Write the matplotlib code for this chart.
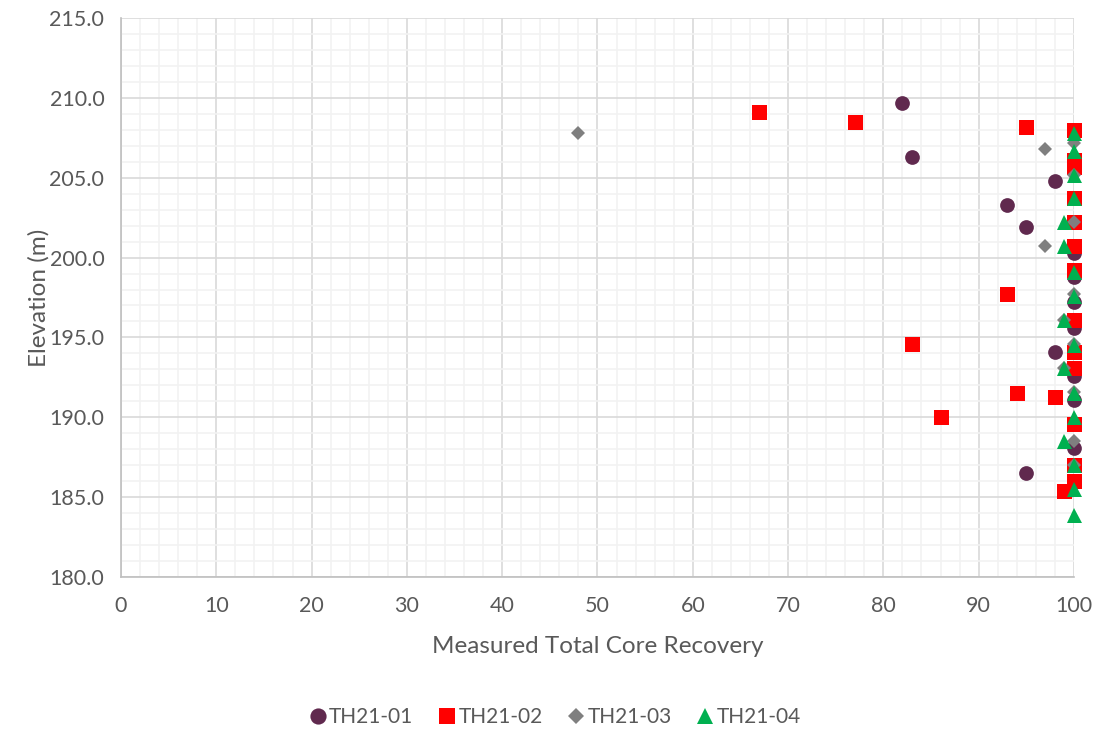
import numpy as np
import matplotlib.pyplot as plt
from matplotlib.ticker import MultipleLocator

# core recovery (%) vs elevation (m) per borehole
th01_rec = [82, 83, 98, 93, 95, 100, 100, 100, 100, 98, 100, 100, 100, 100, 95]
th01_elev = [209.7, 206.3, 204.8, 203.3, 201.9, 200.3, 198.8, 197.2, 195.6, 194.1,
             192.6, 191.1, 189.6, 188.1, 186.5]

th02_rec = [67, 77, 95, 100, 100, 100, 100, 100, 100, 100, 93, 100, 83, 100, 100,
            94, 98, 86, 100, 100, 100, 99]
th02_elev = [209.1, 208.5, 208.2, 208.0, 206.1, 205.7, 203.7, 202.2, 200.7, 199.2,
             197.7, 196.1, 194.6, 194.1, 193.1, 191.5, 191.3, 190.0, 189.6, 187.0,
             186.0, 185.4]

th03_rec = [48, 97, 100, 100, 100, 97, 100, 99, 100, 99, 100, 100, 100]
th03_elev = [207.8, 206.8, 207.2, 205.2, 202.2, 200.7, 197.7, 196.1, 194.6, 193.1,
             191.6, 188.5, 187.0]

th04_rec = [100, 100, 100, 100, 99, 99, 100, 100, 99, 100, 99, 100, 100, 99, 100,
            100, 100]
th04_elev = [207.8, 206.7, 205.2, 203.7, 202.2, 200.7, 199.1, 197.6, 196.1, 194.5,
             193.1, 191.5, 190.0, 188.5, 187.0, 185.5, 183.9]

plt.rcParams['font.family'] = ['Lato', 'DejaVu Sans']
txt = '#595959'

fig = plt.figure(figsize=(10.97, 7.30), dpi=100)
ax = fig.add_axes([0.1103, 0.2096, 0.8687, 0.7657])

ax.plot(th01_rec, th01_elev, 'o', color='#60294E', ms=10.6, mew=0, label='TH21-01',
        zorder=3, clip_on=False)
ax.plot(th02_rec, th02_elev, 's', color='#FF0000', ms=10.8, mew=0, label='TH21-02',
        zorder=4, clip_on=False)
ax.plot(th03_rec, th03_elev, 'D', color='#7F7F7F', ms=7.2, mew=0, label='TH21-03',
        zorder=5, clip_on=False)
ax.plot(th04_rec, th04_elev, '^', color='#00B050', ms=10.8, mew=0, label='TH21-04',
        zorder=6, clip_on=False)

ax.set_xlim(0, 100)
ax.set_ylim(180, 215)
ax.xaxis.set_major_locator(MultipleLocator(10))
ax.xaxis.set_minor_locator(MultipleLocator(2))
ax.yaxis.set_major_locator(MultipleLocator(5))
ax.yaxis.set_minor_locator(MultipleLocator(1))
ax.yaxis.set_major_formatter(plt.FormatStrFormatter('%.1f'))

ax.grid(which='major', color='#D9D9D9', lw=1.2)
ax.grid(which='minor', color='#F2F2F2', lw=1.2)
ax.set_axisbelow(True)
for s in ['top', 'right']:
    ax.spines[s].set_visible(False)
for s in ['left', 'bottom']:
    ax.spines[s].set_color('#BFBFBF')
    ax.spines[s].set_linewidth(1.2)

ax.tick_params(which='both', length=0, labelsize=15.5, colors=txt)
ax.tick_params(axis='x', pad=14)
ax.tick_params(axis='y', pad=12)
ax.set_xlabel('Measured Total Core Recovery', fontsize=17.5, color=txt, labelpad=14)
ax.set_ylabel('Elevation (m)', fontsize=17.5, color=txt, labelpad=0)

fig.legend(loc='center', bbox_to_anchor=(0.505, 0.018), ncol=4, frameon=False,
           fontsize=15, labelcolor=txt, handletextpad=0.05, columnspacing=1.1,
           handlelength=1.0, markerscale=1.1)

fig.savefig('out.png', dpi=100)
